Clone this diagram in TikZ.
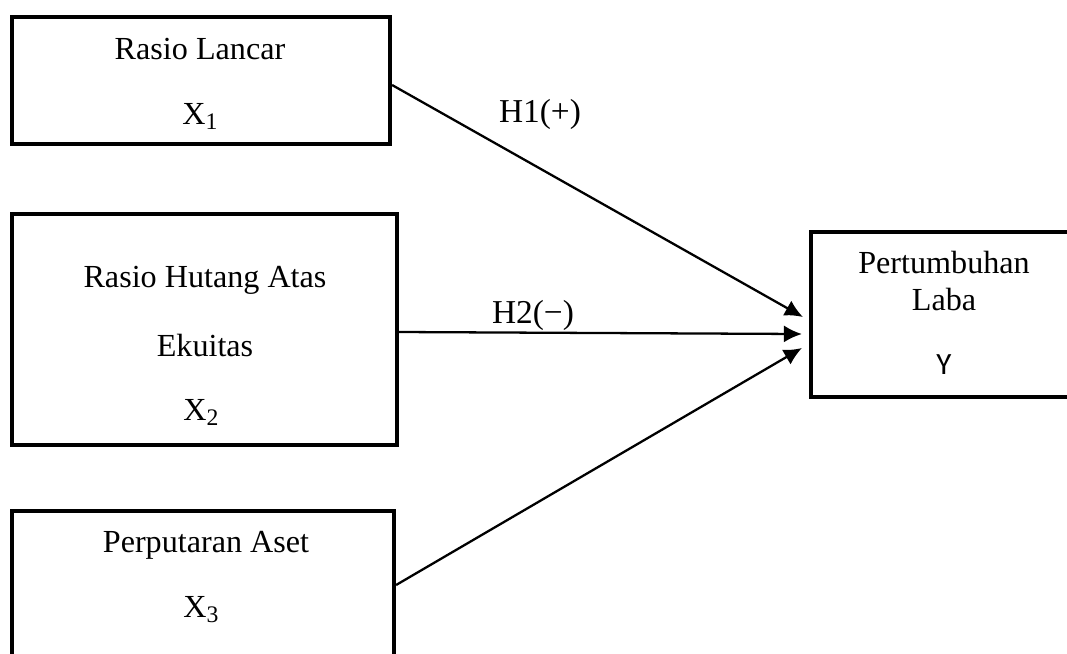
\documentclass[tikz,border=0pt]{standalone}
\usepackage{fontspec}
\setmainfont{Liberation Serif}
\newfontfamily\calibrifont{Carlito}
\usetikzlibrary{arrows.meta,positioning,calc}
\newcommand{\varsub}[1]{\raisebox{-0.35ex}{\fontsize{13.5}{15}\selectfont #1}}
\tikzstyle{varbox} = [draw, line width=2.4pt, rectangle, inner sep=0pt]
\tikzstyle{arrow} = [line width=1.3pt, -{Latex[length=3.6mm,width=3.4mm]}]
\tikzstyle{boxtext} = [anchor=base, inner sep=0pt, font=\fontsize{18.3}{22}\selectfont]
\tikzstyle{hyp} = [anchor=base, inner sep=0pt, font=\fontsize{19}{23}\selectfont]

\begin{document}
\begin{tikzpicture}[x=0.02cm, y=-0.02cm]
    \useasboundingbox (0,0) rectangle (1067,653);
    \clip (0,0) rectangle (1067,653);

    % Independent variables
    \node[varbox, minimum width=7.56cm, minimum height=2.54cm] (x1) at (201,80.5) {};
    \node[boxtext] (x1name) at (200,59) {Rasio Lancar};
    \node[boxtext] (x1sym) at (200,124) {X\varsub{1}};

    \node[varbox, minimum width=7.70cm, minimum height=4.62cm] (x2) at (204.5,329.5) {};
    \node[boxtext] (x2name) at (205,287) {Rasio Hutang Atas};
    \node[boxtext] (x2name2) at (205,356) {Ekuitas};
    \node[boxtext] (x2sym) at (201,420) {X\varsub{2}};

    \node[varbox, minimum width=7.64cm, minimum height=3.4cm] (x3) at (203,596) {};
    \node[boxtext] (x3name) at (206,552) {Perputaran Aset};
    \node[boxtext] (x3sym) at (201,617) {X\varsub{3}};

    % Dependent variable
    \node[varbox, minimum width=6cm, minimum height=3.30cm] (y) at (961,314.5) {};
    \node[boxtext] (yname) at (944,273) {Pertumbuhan};
    \node[boxtext] (yname2) at (944,310) {Laba};
    \node[boxtext, font=\calibrifont\fontsize{17.6}{21}\selectfont] (ysym) at (944,374) {Y};

    % Arrows
    \coordinate (in1) at ($(y.west)+(-6,2.5)$);
    \coordinate (in2) at ($(y.west)+(-7,19.5)$);
    \coordinate (in3) at ($(y.west)+(-7,33.5)$);
    \draw[arrow] ($(x1.east)+(0,4.5)$) -- (in1);
    \draw[arrow] ($(x2.east)+(0,2.5)$) -- (in2);
    \draw[arrow] ($(x3.east)+(0,-11)$) -- (in3);
    \node[hyp] (h1) at (540,122) {H1(+)};
    \node[hyp] (h2) at (533,323) {H2(−)};
\end{tikzpicture}
\end{document}
